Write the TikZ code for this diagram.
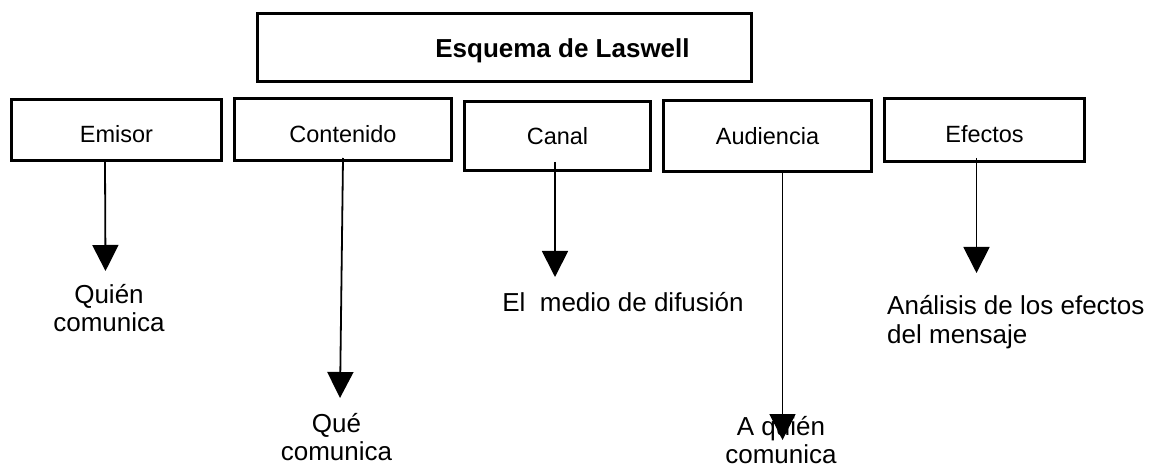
\documentclass[tikz,border=0pt]{standalone}
\usepackage{fontspec}
\setmainfont{Liberation Sans}
\usetikzlibrary{arrows.meta}
\begin{document}
\begin{tikzpicture}[x=1pt,y=-1pt,
  box/.style={draw=black,line width=3pt,rectangle,inner sep=0pt,
    font=\fontsize{23.5}{26}\selectfont},
  lowtext/.style={text height=26pt,text depth=0pt},
  lbl/.style={inner sep=0pt,font=\fontsize{26}{28.5}\selectfont},
  arr/.style={line width=1.8pt,-{Triangle[length=26pt,width=26pt]}}]
\useasboundingbox[fill=white] (0,0) rectangle (1159,470);
% title
\node[box,minimum width=494pt,minimum height=68pt] (title) at (504.5,47.5) {};
\node[inner sep=0pt,anchor=base,font=\fontsize{26}{28}\selectfont\bfseries] (titletext) at (562.5,58) {Esquema de Laswell};
% boxes
\node[box,lowtext,minimum width=210pt,minimum height=61pt] (emisor) at (116.5,130) {Emisor};
\node[box,lowtext,minimum width=217pt,minimum height=62pt] (contenido) at (343,129.5) {Contenido};
\node[box,minimum width=186pt,minimum height=69pt] (canal) at (557.5,136) {Canal};
\node[box,minimum width=208pt,minimum height=71pt] (audiencia) at (767.5,136) {Audiencia};
\node[box,lowtext,minimum width=200pt,minimum height=63pt] (efectos) at (984.5,130) {Efectos};
% arrow tips
\coordinate (tE) at (105.5,271);
\coordinate (tC) at (340,398);
\coordinate (tCa) at (555,277);
\coordinate (tA) at (782.5,440);
\coordinate (tEf) at (976.5,273);
% arrows
\draw[arr] ([xshift=-11.5pt]emisor.south) -- (tE);
\draw[arr] ([yshift=4pt]contenido.south) -- (tC);
\draw[arr] ([xshift=-2.5pt,yshift=10pt]canal.south) -- (tCa);
\draw[arr] ([xshift=15pt]audiencia.south) -- (tA);
\draw[arr] ([xshift=-8pt,yshift=5pt]efectos.south) -- (tEf);
% labels
\node[lbl,anchor=base] (quien) at (109,303) {\begin{tabular}[t]{@{}c@{}}Quién\\comunica\end{tabular}};
\node[lbl,anchor=base] (que) at (336.5,432) {\begin{tabular}[t]{@{}c@{}}Qué\\comunica\end{tabular}};
\node[lbl,anchor=base] (medio) at (623,312) {El\ \ medio de difusión};
\node[lbl,anchor=base west] (analisis) at (887,315) {\begin{tabular}[t]{@{}l@{}}Análisis de los efectos\\del mensaje\end{tabular}};
\node[lbl,anchor=base] (aquien) at (781,435) {\begin{tabular}[t]{@{}c@{}}A quién\\comunica\end{tabular}};
\end{tikzpicture}
\end{document}
